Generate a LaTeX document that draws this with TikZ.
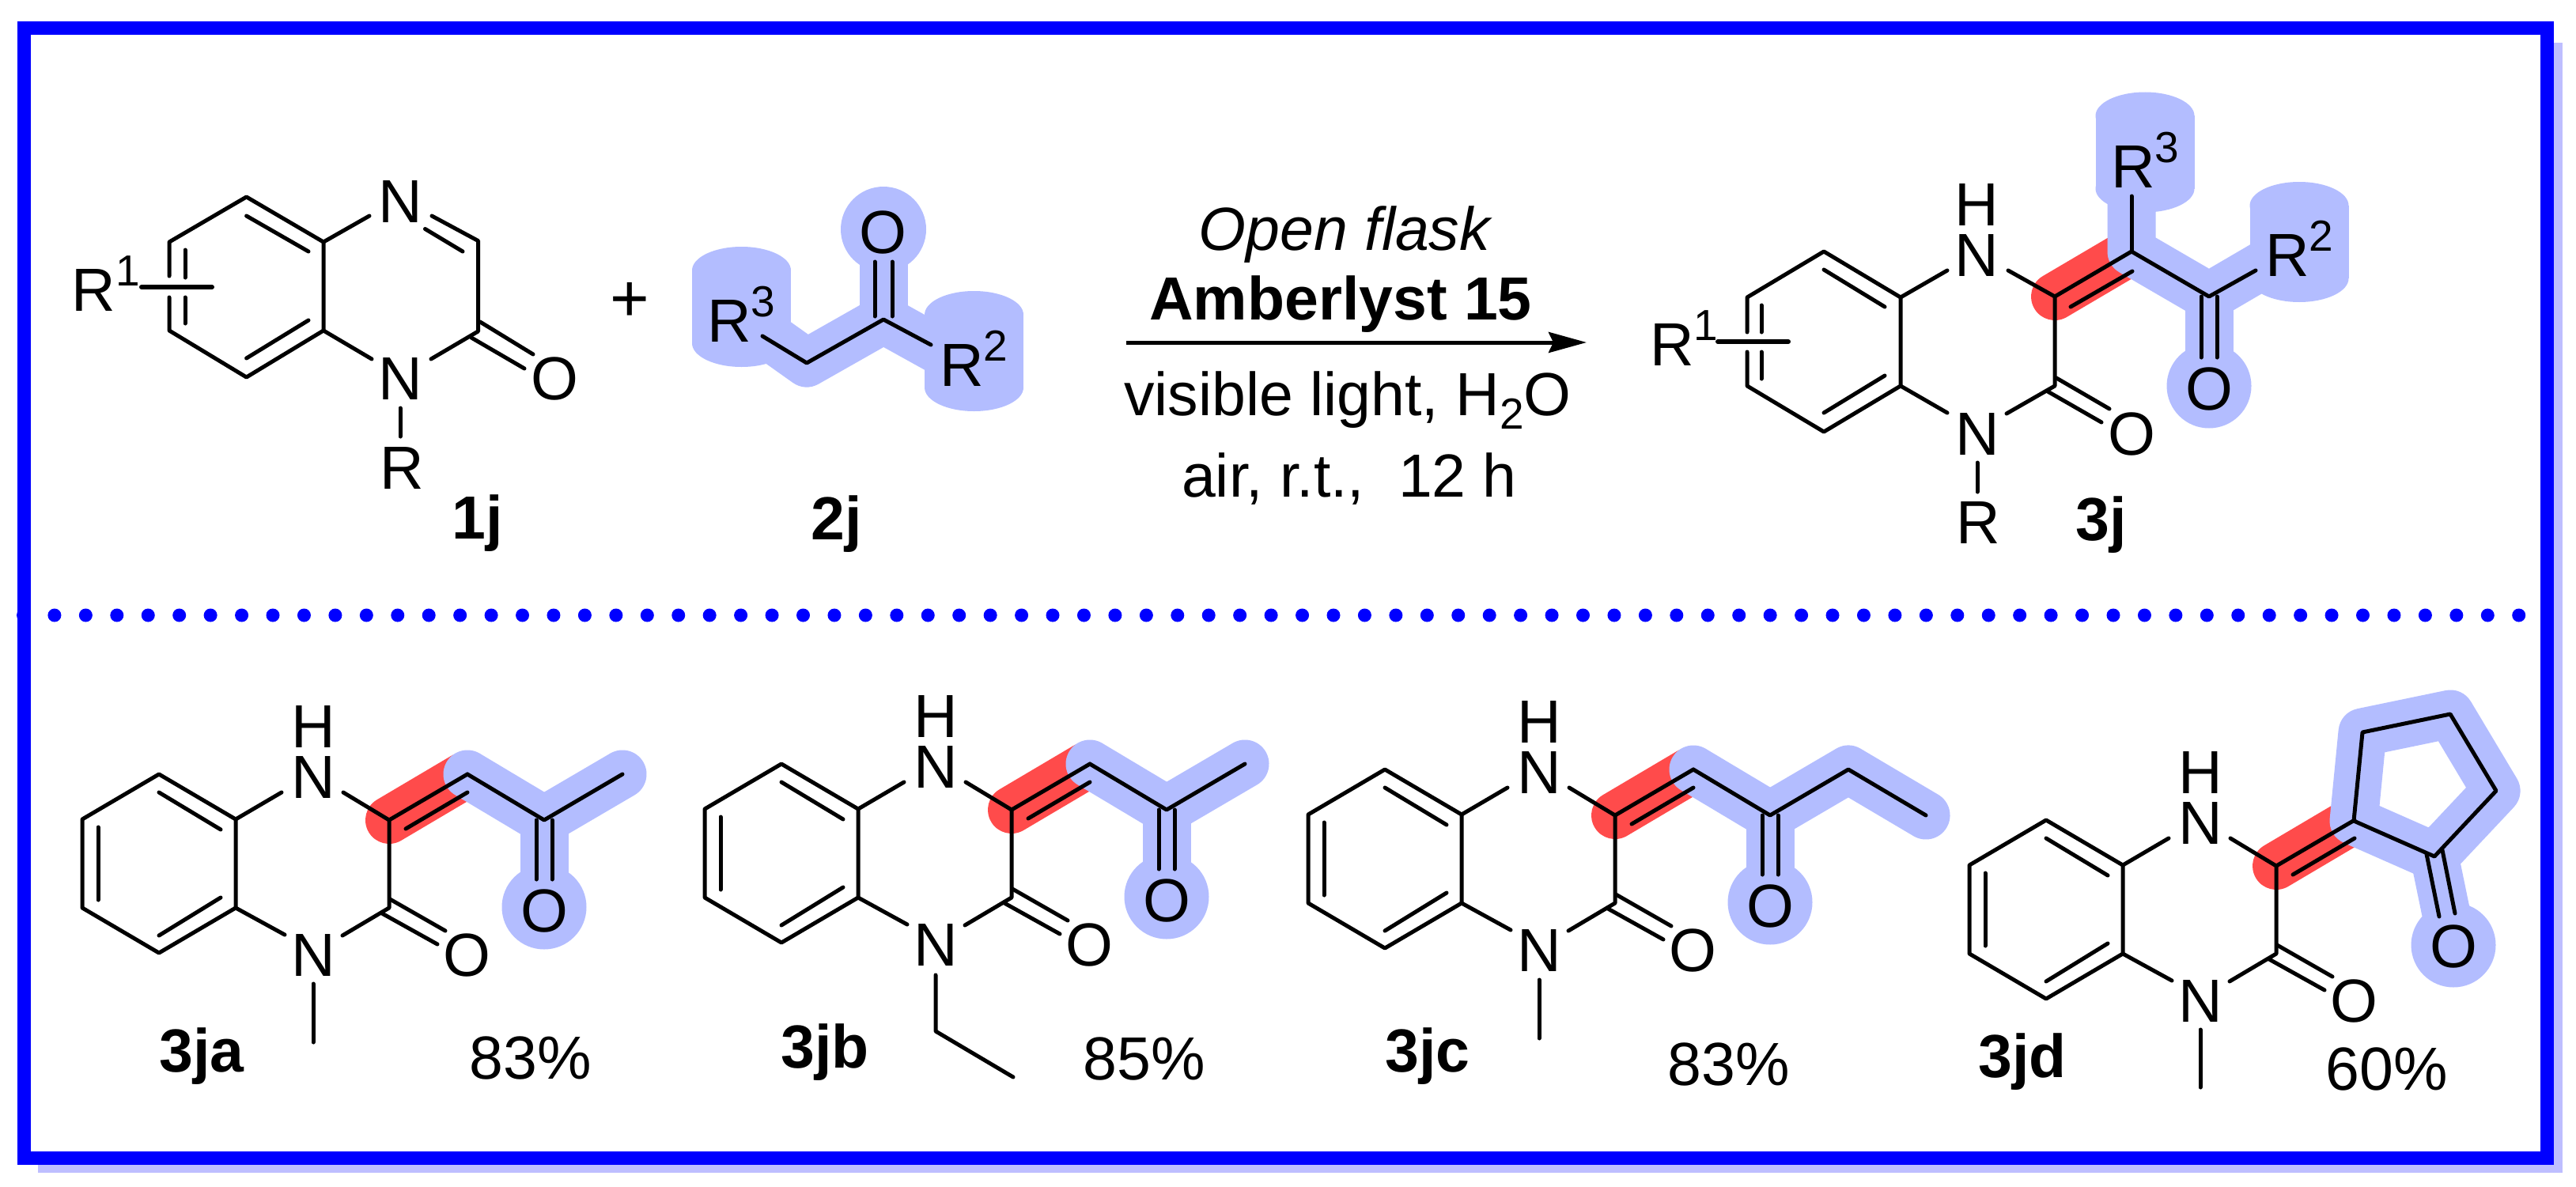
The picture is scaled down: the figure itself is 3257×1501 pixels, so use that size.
\documentclass[tikz,border=0pt]{standalone}
\usepackage{fontspec}
\setmainfont{Liberation Sans}
\usetikzlibrary{arrows.meta}
\definecolor{framecol}{RGB}{0,0,255}
\definecolor{shadowcol}{RGB}{190,190,255}
\definecolor{hlblue}{RGB}{179,189,255}
\definecolor{hlred}{RGB}{255,75,75}
\tikzset{
  bond/.style={draw=black,line width=5pt,line cap=round,line join=round},
  thickbar/.style={draw=black,line width=6pt,line cap=round},
  hl/.style={draw=hlblue,line width=61pt,line cap=round,line join=round},
  hlr/.style={draw=hlred,line width=60pt,line cap=round},
  lab/.style={inner sep=0pt,outer sep=0pt,anchor=base,font=\fontsize{77}{77}\selectfont},
  labb/.style={lab,font=\fontsize{77}{77}\selectfont\bfseries},
  labw/.style={lab,anchor=base west},
}
\newcommand{\smallfs}{\fontsize{55}{55}\selectfont}
% R with a superscript digit: name, x of the R centre, baseline, digit
\newcommand{\rlab}[4]{\node[labw] (#1) at (#2-27.8,#3) {R\raisebox{32pt}{\smallfs #4}};}
% blob behind an R group: centre x, centre y
\newcommand{\rblob}[2]{
  \fill[hlblue] (#1-62.5,#2-46) rectangle (#1+62.5,#2+46);
  \fill[hlblue] (#1,#2-46) ellipse [x radius=62.5,y radius=30];
  \fill[hlblue] (#1,#2+46) ellipse [x radius=62.5,y radius=30];
}
% core of the lower products, in the coordinates of 3ja
\newcommand{\corered}{\draw[hlr] (492,1037)--(585,982);}
\newcommand{\corelines}[1]{
  \draw[bond] (104,1036)--(201,979)--(298,1036)--(298,1148)--(201,1205)--(104,1148)--cycle;
  \draw[bond] (201,1002)--(279,1049);
  \draw[bond] (201,1183)--(279,1135);
  \draw[bond] (124,1046)--(124,1138);
  \draw[bond] (298,1036)--(356,1002);
  \draw[bond] (434,1002)--(492,1037)--(492,1148)--(433,1183);
  \draw[bond] (298,1148)--(360,1182);
  \draw[bond] (492,1037)--(591,979);
  \draw[bond] (513,1048)--(591,1002);
  \draw[bond] (493,1137)--(563,1177);
  \draw[bond] (483,1155)--(553,1194);
  \node[lab] (#1H) at (396,945) {H};
  \node[lab] (#1NH) at (396,1009) {N};
  \node[lab] (#1N) at (396,1234) {N};
  \node[lab] (#1O) at (590,1234) {O};
}
\begin{document}
\begin{tikzpicture}[x=1pt,y=-1pt]
\useasboundingbox (0,0) rectangle (3257,1501);
\fill[white] (0,0) rectangle (3257,1501);
\fill[shadowcol] (48,54) rectangle (3240,1483);
\draw[framecol,line width=17pt,fill=white] (30.5,35.5) rectangle (3220.5,1464);
\draw[framecol,line width=17pt,line cap=round,dash pattern=on 0pt off 39.44pt] (29.5,778)--(3187,778);

% ---------- 1j
\draw[bond] (214,349)--(214,306)--(311.6,249)--(409,306)--(409,418)--(311.6,477)--(214,418)--(214,376);
\draw[bond] (311.6,273)--(390,318);
\draw[bond] (311.6,453)--(390,405);
\draw[bond] (234,316)--(234,351);
\draw[bond] (234,376)--(234,409);
\draw[thickbar] (179,363)--(268,363);
\draw[bond] (409,306)--(467,273);
\draw[bond] (546,273)--(604.5,304.5)--(604.5,419)--(545,454);
\draw[bond] (537.5,289.5)--(585,318);
\draw[bond] (409,418)--(470,454);
\draw[bond] (607,407)--(674,448);
\draw[bond] (596,427)--(663,466);
\draw[bond] (506,516)--(506,552);
\node[lab] (n1jtop) at (506,281) {N};
\node[lab] (n1jbot) at (506,505) {N};
\node[lab] (o1j) at (701,505) {O};
\node[lab] (r1j) at (508,618) {R};
\rlab{r11j}{118.5}{393}{1}
\node[labb] (l1j) at (604,681) {1j};
\node[lab,font=\fontsize{85}{85}\selectfont] (plus) at (796,406) {+};

% ---------- 2j
\rblob{937.5}{388}
\rblob{1231.5}{444}
\fill[hlblue] (1117,290) circle (54);
\draw[hl] (937,400)--(1020,459)--(1117,404)--(1200,450);
\draw[hl] (1117,404)--(1117,300);
\draw[bond] (964,425)--(1020,459)--(1117,404)--(1177,436);
\draw[bond] (1106,331)--(1106,400);
\draw[bond] (1128,331)--(1128,400);
\node[lab] (o2j) at (1116,320) {O};
\rlab{r32j}{922}{432}{3}
\rlab{r22j}{1216}{488}{2}
\node[labb] (l2j) at (1058,682) {2j};

% ---------- reaction arrow
\coordinate (arrowfrom) at (1424,433);
\coordinate (arrowto) at (2006,433);
\draw[line width=5pt,-{Stealth[length=48pt,width=26pt,inset=6pt]}] (arrowfrom)--(arrowto);
\node[lab] (cond1) at (1700,316) {\itshape Open flask};
\node[labb] (cond2) at (1695,404) {Amberlyst 15};
\node[lab] (cond3) at (1704,525) {visible light, H\raisebox{-17pt}{\smallfs 2}O};
\node[lab] (cond4) at (1706,628) {air, r.t.,\ \ 12 h};

% ---------- 3j
\draw[hlr] (2598,375)--(2688,322);
\rblob{2712}{192.5}
\rblob{2907}{306}
\fill[hlblue] (2793,488) circle (53.5);
\draw[hl] (2695,240)--(2695,318)--(2793,375)--(2870,330);
\draw[hl] (2793,375)--(2793,470);
\draw[bond] (2209,420)--(2209,376)--(2306,318)--(2403,376)--(2403,488)--(2306,546)--(2209,488)--(2209,445);
\draw[bond] (2306,341)--(2383,388);
\draw[bond] (2306,522)--(2383,475);
\draw[bond] (2227,386)--(2227,420);
\draw[bond] (2227,445)--(2227,479);
\draw[thickbar] (2172,432)--(2261,432);
\draw[bond] (2403,376)--(2462,342);
\draw[bond] (2539,342)--(2598,375)--(2598,488)--(2537,523);
\draw[bond] (2403,488)--(2462,522);
\draw[bond] (2598,375)--(2695,318)--(2793,375)--(2852,342);
\draw[bond] (2618,388)--(2696,343);
\draw[bond] (2695,248)--(2695,318);
\draw[bond] (2783,375)--(2783,452);
\draw[bond] (2803,375)--(2803,452);
\draw[bond] (2600,478)--(2667,517);
\draw[bond] (2589,495)--(2657,534);
\draw[bond] (2500,585)--(2500,622);
\node[lab] (h3j) at (2499,285) {H};
\node[lab] (nh3j) at (2499,349) {N};
\node[lab] (n3j) at (2500,575) {N};
\node[lab] (o3j) at (2695,575) {O};
\node[lab] (o3jb) at (2793,518) {O};
\node[lab] (r3j) at (2501,687) {R};
\rlab{r13j}{2114}{462}{1}
\rlab{r33j}{2697}{237}{3}
\rlab{r23j}{2892}{349}{2}
\node[labb] (l3j) at (2657,683) {3j};

% ---------- 3ja
\corered
\fill[hlblue] (688,1147) circle (53.5);
\draw[hl] (591,979)--(688,1037)--(787,979);
\draw[hl] (688,1037)--(688,1140);
\corelines{ja}
\draw[bond] (591,979)--(688,1037)--(787,979);
\draw[bond] (678,1037)--(678,1112);
\draw[bond] (698,1037)--(698,1112);
\draw[bond] (396,1244)--(396,1318);
\node[lab] (jaO2) at (688,1178) {O};
\node[labb] (l3ja) at (255,1355) {3ja};
\node[lab] (yja) at (671,1364) {83\%};

% ---------- 3jb
\begin{scope}[shift={(787,-13)}]
\corered
\fill[hlblue] (688,1147) circle (53.5);
\draw[hl] (591,979)--(688,1037)--(787,979);
\draw[hl] (688,1037)--(688,1140);
\corelines{jb}
\draw[bond] (591,979)--(688,1037)--(787,979);
\draw[bond] (678,1037)--(678,1112);
\draw[bond] (698,1037)--(698,1112);
\draw[bond] (396,1246)--(396,1317)--(494,1375);
\node[lab] (jbO2) at (688,1178) {O};
\end{scope}
\node[labb] (l3jb) at (1043,1350) {3jb};
\node[lab] (yjb) at (1447,1365) {85\%};

% ---------- 3jc
\begin{scope}[shift={(1550,-6)}]
\corered
\fill[hlblue] (688,1147) circle (53.5);
\draw[hl] (591,979)--(688,1037)--(787,979)--(885,1037);
\draw[hl] (688,1037)--(688,1140);
\corelines{jc}
\draw[bond] (591,979)--(688,1037)--(787,979)--(885,1037);
\draw[bond] (678,1037)--(678,1112);
\draw[bond] (698,1037)--(698,1112);
\draw[bond] (396,1245)--(396,1319);
\node[lab] (jcO2) at (688,1178) {O};
\end{scope}
\node[labb] (l3jc) at (1805,1355) {3jc};
\node[lab] (yjc) at (2186,1372) {83\%};

% ---------- 3jd
\begin{scope}[shift={(2386,58)}]
\corered
\end{scope}
\fill[hlblue] (3102,1195) circle (53.5);
\draw[hl] (3078,1083)--(3098,1180);
\draw[hl] (2976,1038)--(2987,926)--(3098,903)--(3156,1000)--(3078,1083)--cycle;
\begin{scope}[shift={(2386,58)}]
\corelines{jd}
\draw[bond] (396,1244)--(396,1317);
\end{scope}
\draw[bond] (2976,1038)--(2987,926)--(3098,903)--(3156,1000)--(3078,1083)--cycle;
\draw[bond] (3068,1080)--(3084,1159);
\draw[bond] (3088,1075)--(3104,1155);
\node[lab] (jdO2) at (3102,1223) {O};
\node[labb] (l3jd) at (2557,1362) {3jd};
\node[lab] (yjd) at (3018,1378) {60\%};
\end{tikzpicture}
\end{document}
